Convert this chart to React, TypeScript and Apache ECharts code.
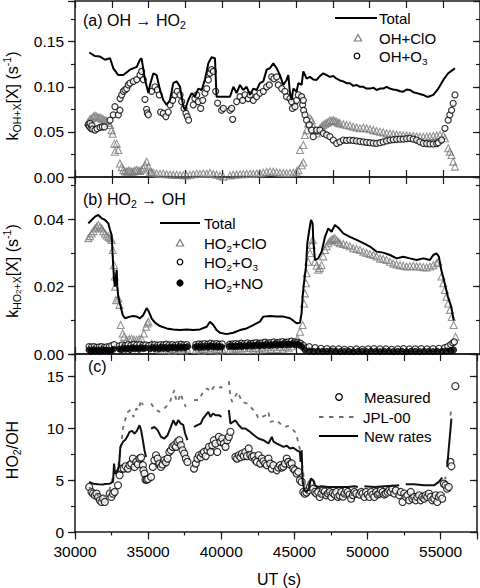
import React, { useEffect, useRef } from 'react';
import * as echarts from 'echarts';

const FONT = '"Liberation Sans", Arial, Helvetica, sans-serif';
const AXIS_COLOR = '#1a1a1a';

// ---------- axes ----------
const UT_MIN = 30000;
const UT_MAX = 57490;
const UT_TICK = 2500;
const UT_LABEL_STEP = 5000;
const A_RANGE = { min: 0, max: 0.1951, major: 0.05, minor: 0.025, dec: 2 };
const B_RANGE = { min: 0, max: 0.05256, major: 0.02, minor: 0.01, dec: 2 };
const C_RANGE = { min: 0, max: 17.12, major: 5, minor: 2.5, dec: 0 };

// ---------- panel (a) : OH -> HO2 ----------
const totalA = [
  [30970, 0.138], [31360, 0.134], [31700, 0.1335], [32040, 0.13], [32380, 0.1316], [32600, 0.1205], [32940, 0.113],
  [33280, 0.113], [33730, 0.119], [34190, 0.122], [34410, 0.13], [34520, 0.1316], [34750, 0.108], [34980, 0.093],
  [35090, 0.102], [35320, 0.115], [35540, 0.113], [35770, 0.0965], [35990, 0.0854], [36220, 0.08], [36450, 0.0854],
  [36670, 0.104], [36900, 0.106], [37130, 0.1], [37350, 0.078], [37470, 0.0743], [37690, 0.0854], [37920, 0.093],
  [38140, 0.089], [38370, 0.098], [38600, 0.0965], [38820, 0.108], [39050, 0.126], [39270, 0.1327], [39500, 0.1316],
  [39610, 0.089], [40070, 0.089], [40520, 0.089], [40750, 0.1], [40970, 0.093], [41200, 0.102], [41420, 0.0965],
  [41650, 0.1], [41880, 0.091], [42100, 0.098], [42330, 0.0965], [42550, 0.104], [42780, 0.106], [43010, 0.119],
  [43230, 0.1205], [43460, 0.126], [43690, 0.1205], [43910, 0.113], [44140, 0.102], [44360, 0.1076], [44480, 0.113],
  [44590, 0.093], [44700, 0.0854], [44820, 0.098], [45040, 0.0946], [45160, 0.104], [45380, 0.102], [45500, 0.117],
  [45720, 0.109], [45950, 0.111], [46170, 0.108], [46400, 0.1076], [46630, 0.112], [46850, 0.115], [47080, 0.113],
  [47300, 0.111], [47530, 0.112], [47760, 0.109], [47980, 0.107], [48210, 0.106], [48430, 0.104], [48660, 0.104],
  [48880, 0.101], [49110, 0.102], [49340, 0.1], [49570, 0.1], [49790, 0.098], [50020, 0.098], [50250, 0.099],
  [50470, 0.0965], [50700, 0.098], [50920, 0.098], [51150, 0.1], [51380, 0.098], [51600, 0.097], [51830, 0.0965],
  [52060, 0.095], [52280, 0.0946], [52510, 0.097], [52730, 0.0965], [52960, 0.094], [53190, 0.093], [53410, 0.092],
  [53640, 0.091], [53870, 0.089], [53980, 0.089], [54320, 0.091], [54660, 0.098], [55000, 0.1076], [55330, 0.115],
  [55670, 0.119], [55790, 0.1205],
];

const clOA = [
  [30900, 0.061], [31020, 0.064], [31130, 0.065], [31250, 0.067], [31360, 0.068], [31470, 0.067], [31580, 0.066],
  [31700, 0.066], [31810, 0.065], [31920, 0.064], [32040, 0.063], [32150, 0.062], [32260, 0.06], [32380, 0.0577],
  [32490, 0.052], [32560, 0.048], [32670, 0.037], [32830, 0.037], [32710, 0.028], [32940, 0.03], [33050, 0.015],
  [33170, 0.011], [33280, 0.0078], [33390, 0.0065], [33510, 0.0059], [33620, 0.007], [33730, 0.0066], [33850, 0.006],
  [33960, 0.0059], [34070, 0.0072], [34190, 0.0078], [34300, 0.0068], [34410, 0.0066], [34520, 0.008], [34640, 0.0096],
  [34750, 0.013], [34860, 0.017], [34980, 0.0115], [35090, 0.0059], [35200, 0.0052], [35320, 0.0048], [35540, 0.004],
  [35770, 0.0033], [35990, 0.0035], [36220, 0.003], [36450, 0.0028], [36670, 0.0026], [36900, 0.0024], [37130, 0.0022],
  [37350, 0.002], [37580, 0.0018], [37800, 0.0025], [38030, 0.003], [38260, 0.0035], [38480, 0.0033], [38710, 0.004],
  [38940, 0.0037], [39160, 0.0045], [39390, 0.0033], [39610, 0.0025], [39840, 0.0015], [40070, 0.0004], [40520, 0.0018],
  [40740, 0.0026], [40970, 0.0028], [41200, 0.003], [41420, 0.0032], [41650, 0.0033], [41880, 0.0035], [42100, 0.0037],
  [42330, 0.004], [42550, 0.0041], [42780, 0.0048], [43010, 0.0055], [43230, 0.0062], [43460, 0.0059], [43690, 0.0052],
  [43910, 0.0048], [44140, 0.0045], [44360, 0.0041], [44590, 0.0045], [44820, 0.0048], [45040, 0.006], [45160, 0.0078],
  [45270, 0.03], [45380, 0.013], [45500, 0.016], [45500, 0.0355], [45610, 0.0466], [45720, 0.052], [45830, 0.0595],
  [45950, 0.065], [46060, 0.063], [46170, 0.0558], [46290, 0.052], [46400, 0.0484], [46520, 0.051], [46630, 0.054],
  [46740, 0.056], [46850, 0.0577], [46970, 0.059], [47080, 0.06], [47190, 0.061], [47300, 0.0625], [47420, 0.062],
  [47530, 0.063], [47640, 0.062], [47760, 0.0614], [47870, 0.06], [47980, 0.0595], [48210, 0.0585], [48430, 0.0577],
  [48660, 0.057], [48880, 0.0558], [49110, 0.055], [49340, 0.054], [49570, 0.0545], [49790, 0.054], [50020, 0.053],
  [50250, 0.052], [50470, 0.051], [50700, 0.0503], [50920, 0.0495], [51150, 0.0484], [51380, 0.048], [51600, 0.0477],
  [51830, 0.047], [52060, 0.0466], [52280, 0.0462], [52510, 0.046], [52730, 0.0458], [52960, 0.0455], [53190, 0.045],
  [53410, 0.0447], [53640, 0.0445], [53870, 0.0447], [54090, 0.045], [54320, 0.0455], [54550, 0.046], [54770, 0.0466],
  [55000, 0.046], [55110, 0.0429], [55330, 0.0318], [55440, 0.0281], [55560, 0.0244], [55670, 0.017], [55790, 0.0115],
];

const o3A = [
  [30900, 0.058], [30970, 0.056], [31020, 0.0595], [31080, 0.054], [31150, 0.057], [31200, 0.053], [31360, 0.052],
  [31500, 0.0535], [31700, 0.055], [31850, 0.0555], [32000, 0.0555], [32375, 0.063], [32600, 0.0688], [32710, 0.078],
  [32940, 0.0688], [33050, 0.074], [33060, 0.087], [33170, 0.091], [33280, 0.095], [33390, 0.0965], [33510, 0.098],
  [33620, 0.102], [33730, 0.104], [33960, 0.106], [34190, 0.108], [34410, 0.113], [34520, 0.117], [34640, 0.108],
  [34750, 0.086], [34860, 0.075], [34910, 0.071], [34980, 0.069], [35200, 0.095], [35430, 0.1], [35590, 0.0965],
  [35720, 0.091], [35810, 0.072], [35990, 0.0706], [36170, 0.067], [36330, 0.072], [36450, 0.08], [36630, 0.085],
  [36790, 0.091], [36940, 0.095], [37130, 0.091], [37240, 0.0836], [37400, 0.076], [37530, 0.0706], [37620, 0.067],
  [37710, 0.063], [38030, 0.08], [38140, 0.087], [38260, 0.091], [38370, 0.0836], [38530, 0.076], [38670, 0.085],
  [38820, 0.093], [38940, 0.098], [39050, 0.1076], [39160, 0.115], [39270, 0.119], [39390, 0.117], [39550, 0.095],
  [39680, 0.082], [39950, 0.074], [40070, 0.076], [40520, 0.074], [40630, 0.076], [40700, 0.064], [40970, 0.0836],
  [41200, 0.089], [41380, 0.085], [41540, 0.091], [41760, 0.087], [41880, 0.091], [42100, 0.085], [42330, 0.089],
  [42550, 0.093], [42780, 0.095], [43010, 0.1], [43190, 0.102], [43350, 0.111], [43500, 0.109], [43690, 0.111],
  [43800, 0.102], [44030, 0.098], [44250, 0.095], [44360, 0.089], [44590, 0.087], [44700, 0.0836], [44760, 0.076],
  [44930, 0.078], [45040, 0.085], [45160, 0.091], [45380, 0.089], [45450, 0.08], [45500, 0.085], [45520, 0.074],
  [45610, 0.0688], [45720, 0.063], [45900, 0.0577], [46060, 0.052], [46170, 0.0447], [46400, 0.052], [46630, 0.052],
  [46850, 0.0484], [47080, 0.0466], [47300, 0.0447], [47530, 0.041], [47760, 0.0373], [47980, 0.039], [48210, 0.041],
  [48430, 0.0405], [48660, 0.041], [48880, 0.0405], [49110, 0.04], [49340, 0.0395], [49570, 0.039], [49790, 0.0385],
  [50020, 0.038], [50250, 0.0375], [50470, 0.0373], [50700, 0.038], [50920, 0.039], [51150, 0.04], [51380, 0.041],
  [51600, 0.0415], [51830, 0.0418], [52060, 0.042], [52280, 0.042], [52510, 0.0425], [52730, 0.0429], [52960, 0.042],
  [53190, 0.041], [53410, 0.039], [53640, 0.0373], [53870, 0.037], [54090, 0.0366], [54320, 0.0366], [54550, 0.037],
  [54660, 0.038], [54880, 0.041], [55110, 0.054], [55330, 0.063], [55440, 0.0688], [55560, 0.074], [55670, 0.0817],
  [55790, 0.091],
];

// ---------- panel (b) : HO2 -> OH ----------
const totalB = [
  [30905, 0.0388], [31130, 0.0398], [31360, 0.0408], [31580, 0.0413], [31810, 0.0403], [32040, 0.0398], [32260, 0.0388],
  [32380, 0.0368], [32490, 0.0353], [32560, 0.0289], [32600, 0.0259], [32650, 0.022], [32710, 0.02], [32830, 0.025],
  [32870, 0.02], [32940, 0.017], [33050, 0.015], [33240, 0.0116], [33390, 0.0106], [33730, 0.0111], [33960, 0.0113],
  [34190, 0.0111], [34410, 0.0106], [34640, 0.0116], [34860, 0.0136], [34980, 0.0129], [35200, 0.0106], [35430, 0.0093],
  [35770, 0.0083], [36220, 0.0076], [36670, 0.0073], [37130, 0.0071], [37580, 0.0073], [38030, 0.0071], [38480, 0.0073],
  [38940, 0.0081], [39160, 0.0096], [39390, 0.0086], [39610, 0.0071], [39840, 0.0063], [40290, 0.0059], [40740, 0.0063],
  [41200, 0.0071], [41650, 0.0076], [42100, 0.0086], [42550, 0.0096], [42780, 0.0111], [43230, 0.0113], [43690, 0.0111],
  [44140, 0.0111], [44590, 0.0106], [44820, 0.0099], [45040, 0.0091], [45270, 0.0093], [45380, 0.0121], [45450, 0.017],
  [45540, 0.021], [45680, 0.026], [45770, 0.0329], [45900, 0.0368], [46020, 0.0398], [46130, 0.0388], [46170, 0.034],
  [46290, 0.0279], [46510, 0.0284], [46740, 0.0304], [46970, 0.0348], [47190, 0.0373], [47420, 0.0363], [47640, 0.0383],
  [47870, 0.0375], [48210, 0.0358], [48660, 0.0348], [49110, 0.0339], [49570, 0.0329], [50020, 0.0319], [50470, 0.0304],
  [50920, 0.0301], [51380, 0.0294], [51830, 0.0284], [52280, 0.0289], [52730, 0.0284], [53190, 0.0279], [53640, 0.0284],
  [54090, 0.0279], [54320, 0.0294], [54540, 0.0299], [54700, 0.0289], [54860, 0.025], [55090, 0.021], [55310, 0.017],
  [55540, 0.014], [55700, 0.01],
];

const clOB = [
  [30905, 0.0344], [31020, 0.035], [31130, 0.0358], [31250, 0.0365], [31360, 0.0373], [31470, 0.0378], [31580, 0.0383],
  [31700, 0.0378], [31810, 0.0373], [31920, 0.0365], [32040, 0.0358], [32150, 0.0352], [32260, 0.0348], [32380, 0.0344],
  [32490, 0.0339], [32560, 0.0309], [32650, 0.0264], [32710, 0.023], [32720, 0.02], [32780, 0.016], [32940, 0.0165],
  [33010, 0.0146], [33100, 0.0086], [33240, 0.0061], [33330, 0.0051], [33510, 0.0042], [33680, 0.0044], [33840, 0.0045],
  [34010, 0.0043], [34180, 0.0042], [34350, 0.0044], [34520, 0.0045], [34680, 0.0061], [34820, 0.0081], [34910, 0.0091],
  [34980, 0.0096], [35200, 0.003], [35400, 0.0022], [35600, 0.0016], [35800, 0.0012], [36000, 0.0018], [36200, 0.0011],
  [36400, 0.0016], [36600, 0.001], [36800, 0.0015], [37000, 0.0012], [37200, 0.0017], [37400, 0.0011], [37600, 0.0016],
  [38200, 0.0012], [38400, 0.0016], [38600, 0.001], [38800, 0.0015], [39000, 0.0012], [39200, 0.0017], [39400, 0.0011],
  [39600, 0.0015], [39800, 0.001], [40000, 0.0014], [40500, 0.0012], [40700, 0.0016], [40900, 0.0011], [41100, 0.0016],
  [41300, 0.0012], [41500, 0.0017], [41700, 0.0012], [41900, 0.0018], [42100, 0.0013], [42300, 0.0018], [42500, 0.0013],
  [42700, 0.0019], [42900, 0.0014], [43100, 0.002], [43300, 0.0015], [43500, 0.002], [43700, 0.0015], [43900, 0.0021],
  [44100, 0.0016], [44300, 0.0022], [44500, 0.0017], [44700, 0.0023], [44930, 0.0032], [45100, 0.0045], [45270, 0.0066],
  [45450, 0.0086], [45540, 0.015], [45610, 0.018], [45680, 0.021], [45720, 0.024], [45830, 0.0274], [45950, 0.03],
  [46060, 0.0324], [46130, 0.0339], [46290, 0.0274], [46400, 0.0262], [46510, 0.025], [46620, 0.0255], [46740, 0.0264],
  [46850, 0.029], [46970, 0.0309], [47080, 0.032], [47190, 0.0329], [47300, 0.0335], [47420, 0.0339], [47530, 0.0342],
  [47640, 0.0344], [47760, 0.0338], [47870, 0.0333], [47980, 0.0329], [48210, 0.0327], [48430, 0.0324], [48660, 0.032],
  [48880, 0.0314], [49110, 0.0312], [49340, 0.0309], [49570, 0.0304], [49790, 0.03], [50020, 0.0297], [50250, 0.0294],
  [50470, 0.029], [50700, 0.0284], [50920, 0.0282], [51150, 0.0279], [51380, 0.0274], [51600, 0.0269], [51830, 0.0266],
  [52060, 0.0264], [52280, 0.0262], [52510, 0.026], [52730, 0.0261], [52960, 0.0262], [53190, 0.026], [53410, 0.026],
  [53640, 0.0258], [53870, 0.0257], [54090, 0.026], [54320, 0.0264], [54550, 0.027], [54660, 0.0274], [54880, 0.023],
  [55000, 0.021], [55110, 0.019], [55220, 0.017], [55330, 0.015], [55450, 0.0131], [55580, 0.011], [55700, 0.0086],
  [55830, 0.0051],
];

const o3B = [
  [30950, 0.0022], [31130, 0.0021], [31300, 0.0022], [31470, 0.002], [31640, 0.0021], [31810, 0.0022], [31980, 0.002],
  [32150, 0.0021], [32320, 0.0022], [32490, 0.0025], [32660, 0.0028], [33000, 0.0024], [33200, 0.0027], [33400, 0.0025],
  [33600, 0.0028], [33800, 0.0026], [34000, 0.0029], [34200, 0.0027], [34400, 0.0028], [34600, 0.0026], [34800, 0.0027],
  [35000, 0.0025], [35200, 0.0027], [35400, 0.0028], [35600, 0.0026], [35800, 0.0028], [36000, 0.0027], [36200, 0.0029],
  [36400, 0.0027], [36600, 0.0028], [36800, 0.0026], [37000, 0.0028], [37200, 0.0029], [37400, 0.0027], [37600, 0.0028],
  [38200, 0.0028], [38400, 0.003], [38600, 0.0029], [38800, 0.0031], [39000, 0.0029], [39200, 0.0032], [39400, 0.003],
  [39600, 0.0031], [39800, 0.0029], [40000, 0.003], [40500, 0.0029], [40700, 0.003], [40900, 0.0031], [41100, 0.003],
  [41300, 0.0032], [41500, 0.0031], [41700, 0.0033], [41900, 0.0031], [42100, 0.0032], [42300, 0.0034], [42500, 0.0032],
  [42700, 0.0033], [42900, 0.0035], [43100, 0.0033], [43300, 0.0034], [43500, 0.0036], [43700, 0.0034], [43900, 0.0035],
  [44100, 0.0037], [44300, 0.0035], [44500, 0.0036], [44700, 0.0038], [44900, 0.0036], [45100, 0.0035], [45300, 0.0032],
  [45500, 0.0026], [45700, 0.0018], [45900, 0.0022], [46300, 0.0019], [46700, 0.0017], [47100, 0.0016], [47500, 0.0015],
  [47900, 0.0015], [48300, 0.0014], [48700, 0.0014], [49100, 0.0015], [49500, 0.0014], [49900, 0.0015], [50300, 0.0016],
  [50700, 0.0015], [51100, 0.0015], [51500, 0.0014], [51900, 0.0015], [52300, 0.0016], [52700, 0.0015], [53100, 0.0015],
  [53500, 0.0016], [53900, 0.0015], [54300, 0.0016], [54700, 0.0017], [55100, 0.0019], [55300, 0.0022], [55500, 0.0028],
  [55650, 0.0033], [55750, 0.0036],
];

const noB = [
  [30950, 0.0012], [31100, 0.0008], [31250, 0.0013], [31400, 0.0009], [31550, 0.0012], [31700, 0.0008], [31850, 0.0013],
  [32000, 0.0009], [32150, 0.0012], [32300, 0.0008], [32450, 0.0011], [32600, 0.0014], [33000, 0.0015], [33150, 0.0012],
  [33300, 0.0018], [33450, 0.0014], [33600, 0.0017], [33750, 0.0013], [33900, 0.0019], [34050, 0.0015], [34200, 0.0018],
  [34350, 0.0014], [34500, 0.0019], [34650, 0.0016], [34800, 0.0018], [35100, 0.0015], [35250, 0.002], [35400, 0.0016],
  [35550, 0.0019], [35700, 0.0015], [35850, 0.0021], [36000, 0.0017], [36150, 0.002], [36300, 0.0016], [36450, 0.0021],
  [36600, 0.0018], [36750, 0.002], [36900, 0.0017], [37050, 0.0022], [37200, 0.0018], [37350, 0.0021], [37500, 0.0019],
  [37650, 0.0022], [38150, 0.002], [38300, 0.0023], [38450, 0.0019], [38600, 0.0024], [38750, 0.002], [38900, 0.0023],
  [39050, 0.002], [39200, 0.0025], [39350, 0.0021], [39500, 0.0024], [39650, 0.002], [39800, 0.0023], [39950, 0.0021],
  [40450, 0.0022], [40600, 0.0025], [40750, 0.0021], [40900, 0.0024], [41050, 0.0022], [41200, 0.0026], [41350, 0.0022],
  [41500, 0.0025], [41650, 0.0023], [41800, 0.0027], [41950, 0.0023], [42100, 0.0026], [42250, 0.0024], [42400, 0.0028],
  [42550, 0.0024], [42700, 0.0027], [42850, 0.0025], [43000, 0.0029], [43150, 0.0025], [43300, 0.0028], [43450, 0.0026],
  [43600, 0.003], [43750, 0.0026], [43900, 0.0029], [44050, 0.0027], [44200, 0.0031], [44350, 0.0027], [44500, 0.003],
  [44650, 0.0028], [44800, 0.0031], [44950, 0.0027], [45100, 0.003], [45250, 0.0026], [45400, 0.0022], [45600, 0.0012],
  [45900, 0.0009], [46200, 0.0008], [46500, 0.0009], [46800, 0.0008], [47100, 0.0008], [47400, 0.0009], [47700, 0.0008],
  [48000, 0.0007], [48300, 0.0008], [48600, 0.0008], [48900, 0.0007], [49200, 0.0008], [49500, 0.0008], [49800, 0.0007],
  [50100, 0.0008], [50400, 0.0008], [50700, 0.0007], [51000, 0.0008], [51300, 0.0008], [51600, 0.0007], [51900, 0.0008],
  [52200, 0.0008], [52500, 0.0007], [52800, 0.0008], [53100, 0.0008], [53400, 0.0007], [53700, 0.0008], [54000, 0.0008],
  [54300, 0.0007], [54600, 0.0008], [54900, 0.0008], [55200, 0.0009], [55500, 0.001], [55700, 0.0012],
];

// ---------- panel (c) : HO2/OH ----------
const measuredC = [
  [30970, 4.33], [31130, 3.85], [31240, 3.69], [31360, 3.53], [31470, 3.69], [31580, 3.37], [31700, 3.05], [31810, 2.89],
  [31920, 3.21], [32040, 2.89], [32380, 3.69], [32490, 3.37], [32600, 3.69], [32710, 3.85], [32940, 4.49], [33050, 5.46],
  [33170, 6.1], [33330, 6.1], [33460, 6.32], [33620, 6.1], [33730, 6.42], [33850, 6.58], [33960, 7.06], [34070, 6.26],
  [34190, 6.74], [34300, 6.52], [34410, 7.06], [34520, 7.16], [34640, 6.42], [34680, 5.94], [34750, 5.62], [34820, 5.04],
  [34910, 5.04], [35000, 5.1], [35200, 5.3], [35320, 6.26], [35430, 6.9], [35540, 7.38], [35650, 7.06], [35770, 6.58],
  [35880, 6.26], [35990, 6.5], [36110, 6.9], [36220, 6.7], [36330, 7.06], [36450, 7.7], [36560, 7.86], [36670, 8.19],
  [36790, 8.35], [36900, 8.19], [37010, 8.67], [37130, 8.83], [37240, 8.35], [37350, 7.86], [37470, 7.54], [37580, 7.06],
  [37690, 6.74], [38140, 6.1], [38260, 6.58], [38370, 7.06], [38480, 7.38], [38600, 7.2], [38710, 7.54], [38820, 7.7],
  [38940, 7.3], [39050, 7.86], [39160, 8.19], [39270, 7.7], [39390, 8.35], [39500, 8.83], [39610, 8.51], [39730, 7.7],
  [39840, 9.15], [39950, 8.67], [40070, 8.99], [40180, 8.51], [40290, 8.19], [40410, 8.83], [40520, 9.15], [40630, 9.63],
  [40970, 7.22], [41080, 7.06], [41200, 7.38], [41310, 7.2], [41420, 7.54], [41540, 7.3], [41650, 7.7], [41760, 7.3],
  [41880, 8.03], [41990, 7.4], [42100, 7.22], [42220, 7.3], [42330, 6.9], [42440, 6.74], [42550, 7.38], [42670, 6.58],
  [42780, 7.06], [42890, 6.8], [43010, 6.58], [43120, 6.42], [43230, 7.06], [43350, 6.58], [43460, 6.1], [43570, 6.42],
  [43800, 5.94], [43910, 6.2], [44020, 6.42], [44140, 6.2], [44250, 6.3], [44360, 6.58], [44480, 7.06], [44590, 6.74],
  [44700, 6.5], [44820, 6.6], [44930, 6.1], [45040, 5.94], [45160, 5.62], [45270, 5.8], [45380, 4.98], [45500, 4.82],
  [45610, 3.85], [45720, 3.69], [45830, 3.8], [45950, 4.01], [46060, 4.33], [46170, 4.65], [46290, 4.17], [46400, 3.85],
  [46510, 3.7], [46630, 3.85], [46740, 3.37], [46850, 3.69], [46970, 4.01], [47080, 3.9], [47190, 3.53], [47300, 3.7],
  [47420, 3.85], [47530, 3.37], [47640, 3.75], [47760, 3.6], [47870, 3.85], [47980, 3.37], [48100, 3.5], [48210, 3.85],
  [48320, 3.4], [48430, 3.7], [48550, 4.01], [48660, 3.85], [48770, 3.6], [48880, 3.21], [49000, 3.55], [49110, 3.85],
  [49220, 3.7], [49450, 3.6], [49570, 3.85], [49680, 3.7], [49790, 3.37], [49900, 3.85], [50020, 3.6], [50130, 3.37],
  [50250, 3.85], [50360, 3.6], [50470, 3.37], [50590, 3.85], [50700, 3.6], [50810, 3.7], [50920, 4.01], [51040, 3.85],
  [51150, 3.6], [51260, 3.7], [51380, 3.85], [51490, 4.01], [51600, 3.85], [51710, 4.17], [51830, 3.7], [51940, 4.0],
  [52170, 3.53], [52280, 3.85], [52400, 2.89], [52510, 3.7], [52620, 3.37], [52730, 3.53], [52850, 3.05], [52960, 3.85],
  [53070, 3.21], [53190, 3.37], [53300, 3.05], [53410, 3.37], [53530, 3.53], [53640, 3.05], [53750, 3.37], [53870, 3.21],
  [53980, 3.53], [54090, 3.37], [54200, 3.69], [54320, 3.37], [54430, 3.05], [54550, 3.21], [54660, 3.53], [54770, 2.89],
  [54880, 3.37], [54990, 3.53], [55110, 3.21], [55220, 4.65], [55330, 4.5], [55450, 4.17], [55560, 4.33], [55670, 6.74],
  [55740, 6.32], [56010, 14.03],
];

const jplC = [
  [[30970, 4.33], [31240, 3.85], [31580, 3.53], [31920, 3.37], [32260, 3.6], [32600, 5.3], [32940, 6.2], [33170, 8.5],
   [33280, 9.95], [33390, 10.59], [33620, 11.56], [33780, 11.72], [34000, 11.07], [34190, 11.88], [34340, 11.72],
   [34520, 12.68], [34640, 12.2]],
  [[35200, 12.36], [35430, 11.88], [35770, 11.56], [36110, 11.88], [36450, 12.36], [36790, 13.64], [36900, 12.84],
   [37010, 12.5], [37240, 13.32], [37400, 12.52], [37580, 12.04]],
  [[38140, 12.68], [38480, 12.7], [38820, 13.64], [39050, 13.8], [39270, 13.48], [39500, 13.96], [39730, 13.8],
   [40000, 13.96], [40130, 13.6]],
  [[40520, 14.51], [40630, 13.0], [40750, 12.52], [41130, 13.48], [41420, 12.52], [41760, 12.36], [41990, 12.04],
   [42330, 11.56], [42550, 10.91], [43010, 11.2], [43230, 11.56], [43350, 10.59], [43800, 10.75], [44140, 10.27],
   [44360, 10.11], [44590, 10.2], [44820, 9.95], [45040, 9.63], [45160, 9.15], [45270, 8.67], [45380, 7.9], [45500, 6.9],
   [45610, 5.62], [45720, 4.33], [45830, 3.85], [45950, 3.53], [46170, 4.0], [46400, 3.7], [46850, 3.5], [47300, 3.8],
   [47760, 3.5], [48210, 3.6], [48660, 3.4], [49110, 3.7], [49570, 3.5], [50020, 3.6], [50470, 3.4], [50920, 3.6],
   [51380, 3.5], [51830, 3.7], [52280, 3.3], [52730, 3.4], [53190, 3.2], [53640, 3.3], [54090, 3.1], [54550, 3.2],
   [55000, 3.0], [55220, 3.4], [55330, 5.3], [55450, 4.65]],
  [[55680, 11.2], [55720, 12.0]],
];

const newRatesC = [
  [[30970, 4.82], [31240, 4.65], [31580, 4.59], [31920, 4.56], [32040, 4.62], [32380, 4.65], [32600, 4.82], [32670, 6.58],
   [32740, 5.6], [32830, 5.7], [33010, 6.26], [33100, 8.19], [33280, 8.67], [33460, 8.89], [33620, 9.31], [33730, 9.63],
   [33910, 9.73], [34070, 9.47], [34230, 9.73], [34410, 10.27], [34520, 9.79], [34640, 8.83], [34750, 7.86], [34860, 7.22]],
  [[35200, 9.95], [35430, 10.1], [35650, 9.8], [35880, 9.15], [36110, 8.99], [36330, 9.31], [36560, 10.11], [36720, 10.75],
   [36900, 10.27], [37060, 10.75], [37240, 10.43], [37400, 10.3], [37530, 9.47], [37690, 8.83]],
  [[38140, 10.11], [38370, 10.27], [38600, 10.43], [38750, 10.91], [38940, 11.24], [39120, 11.56], [39270, 11.07],
   [39430, 11.4], [39610, 11.24], [39840, 11.24], [40020, 11.07]],
  [[40520, 11.72], [40630, 10.43], [40970, 10.75], [41200, 10.27], [41420, 9.95], [41650, 9.95], [41880, 9.73],
   [42100, 9.47], [42330, 9.21], [42550, 8.99], [42890, 8.83], [43230, 8.51], [43460, 9.15], [43570, 8.7], [43800, 8.51],
   [44020, 8.35], [44250, 8.19], [44480, 8.3], [44700, 8.03], [44930, 8.1], [45160, 7.86], [45380, 7.7], [45430, 6.74],
   [45500, 7.86], [45560, 4.98], [45680, 4.01], [45830, 3.85], [45990, 4.17], [46130, 5.14], [46290, 4.98], [46400, 4.49],
   [46630, 4.33], [46850, 4.4], [47300, 4.33], [47760, 4.33], [48210, 4.33], [48660, 4.33], [49110, 4.4], [49340, 4.33]],
  [[49790, 4.4], [50470, 4.33], [51150, 4.4], [51830, 4.46], [52170, 4.49]],
  [[52620, 4.59], [53190, 4.59], [53870, 4.49], [54550, 4.49], [54880, 4.82], [55110, 5.23]],
  [[55450, 6.26], [55630, 9.15], [55740, 10.91]],
];

// ---------- helpers ----------
const withBreaks = (segs: number[][][]) =>
  segs.flatMap((s, i) => (i ? [[s[0][0] - 1, '-'], ...s] : s));

const isMult = (v: number, step: number) => Math.abs(v / step - Math.round(v / step)) < 1e-6;

const tickLine = { color: AXIS_COLOR, width: 1.2 };
const axisLine = { show: true, onZero: false, lineStyle: { color: AXIS_COLOR, width: 1.5 } };

function xAxis(grid: number, position: string, inside: boolean) {
  return {
    type: 'value', gridIndex: grid, position, min: UT_MIN, max: UT_MAX, interval: UT_TICK,
    axisLine, splitLine: { show: false },
    axisTick: { show: true, inside, length: 7, lineStyle: tickLine },
    axisLabel: { show: false },
  };
}

// bottom axis of the last panel: labelled major ticks + short minor ticks, pointing outwards
function xAxesLabelled(grid: number) {
  const base = { type: 'value', gridIndex: grid, position: 'bottom', min: UT_MIN, max: UT_MAX, splitLine: { show: false } };
  return [
    { ...base, interval: UT_LABEL_STEP, axisLine,
      axisTick: { show: true, inside: false, length: 7.5, lineStyle: tickLine },
      axisLabel: {
        show: true, margin: 12, lineHeight: 14, color: '#000', fontSize: 15.5, fontFamily: FONT,
        formatter: (v: number) => (isMult(v, UT_LABEL_STEP) ? String(v) : ''),
      } },
    { ...base, interval: UT_TICK, axisLine: { show: false }, axisLabel: { show: false },
      axisTick: { show: true, inside: false, length: 3.5, lineStyle: tickLine } },
  ];
}

function yAxes(grid: number, r: { min: number; max: number; major: number; minor: number; dec: number }) {
  const base = { type: 'value', gridIndex: grid, min: r.min, max: r.max, splitLine: { show: false } };
  const label = {
    show: true, margin: 11, lineHeight: 14, color: '#000', fontSize: 15.5, fontFamily: FONT,
    formatter: (v: number) => (isMult(v, r.major) ? v.toFixed(r.dec) : ''),
  };
  return [
    { ...base, position: 'left', interval: r.major, axisLine, axisLabel: label,
      axisTick: { show: true, inside: false, length: 7, lineStyle: tickLine } },
    { ...base, position: 'right', interval: r.major, axisLine, axisLabel: { show: false },
      axisTick: { show: true, inside: true, length: 7, lineStyle: tickLine } },
    { ...base, position: 'left', interval: r.minor, axisLine: { show: false }, axisLabel: { show: false },
      axisTick: { show: true, inside: false, length: 4, lineStyle: tickLine } },
    { ...base, position: 'right', interval: r.minor, axisLine: { show: false }, axisLabel: { show: false },
      axisTick: { show: true, inside: true, length: 4, lineStyle: tickLine } },
  ];
}

function richFor(fs: number) {
  const t = (size: number, lh: number, va: string) => ({
    fontSize: size, fontFamily: FONT, fill: '#000', color: '#000', lineHeight: lh, verticalAlign: va,
  });
  return {
    n: t(fs, fs + 5, 'middle'),
    s: t(fs * 0.66, fs * 0.8, 'bottom'),
    ss: t(fs * 0.5, fs * 0.5, 'bottom'),
    p: t(fs * 0.66, fs * 0.8, 'top'),
  };
}
const RICH_L = richFor(15);
const RICH_T = richFor(16);

function txt(x: number, y: number, text: string, rich: any, rot = 0, align = 'left') {
  return {
    type: 'text', x, y, rotation: rot, silent: true, z: 100,
    style: {
      x: 0, y: 0, text, rich, fill: '#000', fontSize: 15, fontFamily: FONT,
      align, textAlign: align, verticalAlign: 'middle', textVerticalAlign: 'middle',
    },
  };
}
function legLine(x1: number, x2: number, y: number, dash?: number[], color = '#000', width = 2) {
  return {
    type: 'line', silent: true, z: 100, shape: { x1, y1: y, x2, y2: y },
    style: { stroke: color, lineWidth: width, lineDash: dash },
  };
}
function legTri(cx: number, cy: number) {
  return {
    type: 'polygon', silent: true, z: 100,
    shape: { points: [[cx, cy - 3.5], [cx - 3.6, cy + 3], [cx + 3.6, cy + 3]] },
    style: { fill: 'none', stroke: '#7a7a7a', lineWidth: 1.2 },
  };
}
function legCirc(cx: number, cy: number, r: number, filled = false) {
  return {
    type: 'circle', silent: true, z: 100, shape: { cx, cy, r },
    style: { fill: filled ? '#000' : '#fff', stroke: '#000', lineWidth: 1.2 },
  };
}

const triStyle = { color: 'rgba(0,0,0,0)', borderColor: '#7a7a7a', borderWidth: 1.1 };
const circStyle = { color: '#fff', borderColor: '#000', borderWidth: 1.2 };

const option = {
  animation: false,
  backgroundColor: '#fff',
  grid: [
    { left: 75, top: 1, width: 405, height: 176 },
    { left: 75, top: 177, width: 405, height: 177 },
    { left: 75, top: 354, width: 405, height: 178 },
  ],
  xAxis: [
    xAxis(0, 'bottom', true), xAxis(0, 'top', true),
    xAxis(1, 'bottom', true), xAxis(1, 'top', true),
    ...xAxesLabelled(2), xAxis(2, 'top', true),
  ],
  yAxis: [...yAxes(0, A_RANGE), ...yAxes(1, B_RANGE), ...yAxes(2, C_RANGE)],
  series: [
    { type: 'scatter', name: 'OH+ClO', xAxisIndex: 0, yAxisIndex: 0, data: clOA, symbol: 'triangle', symbolSize: 7, itemStyle: triStyle, silent: true },
    { type: 'scatter', name: 'OH+O3', xAxisIndex: 0, yAxisIndex: 0, data: o3A, symbol: 'circle', symbolSize: 6, itemStyle: circStyle, silent: true },
    { type: 'line', name: 'Total (a)', xAxisIndex: 0, yAxisIndex: 0, data: totalA, showSymbol: false, symbol: 'none', lineStyle: { color: '#000', width: 2 }, silent: true },

    { type: 'scatter', name: 'HO2+ClO', xAxisIndex: 2, yAxisIndex: 4, data: clOB, symbol: 'triangle', symbolSize: 7, itemStyle: triStyle, silent: true },
    { type: 'scatter', name: 'HO2+O3', xAxisIndex: 2, yAxisIndex: 4, data: o3B, symbol: 'circle', symbolSize: 6, itemStyle: circStyle, silent: true },
    { type: 'scatter', name: 'HO2+NO', xAxisIndex: 2, yAxisIndex: 4, data: noB, symbol: 'circle', symbolSize: 6, itemStyle: { color: '#000', borderColor: '#000', borderWidth: 1 }, silent: true },
    { type: 'line', name: 'Total (b)', xAxisIndex: 2, yAxisIndex: 4, data: totalB, showSymbol: false, symbol: 'none', lineStyle: { color: '#000', width: 2 }, silent: true },

    { type: 'line', name: 'JPL-00', xAxisIndex: 4, yAxisIndex: 8, data: withBreaks(jplC), showSymbol: false, symbol: 'none', lineStyle: { color: '#6e6e6e', width: 1.8, type: [4, 5] }, silent: true },
    { type: 'line', name: 'New rates', xAxisIndex: 4, yAxisIndex: 8, data: withBreaks(newRatesC), showSymbol: false, symbol: 'none', lineStyle: { color: '#111', width: 2 }, silent: true },
    { type: 'scatter', name: 'Measured', xAxisIndex: 4, yAxisIndex: 8, data: measuredC, symbol: 'circle', symbolSize: 7, itemStyle: circStyle, silent: true },
  ],
  graphic: [
    // panel labels
    txt(83, 20, '{n|(a) OH → HO}{s|2}', RICH_T),
    txt(83, 199, '{n|(b) HO}{s|2}{n| → OH}', RICH_T),
    txt(88, 366, '{n|(c)}', RICH_T),
    // axis names
    txt(12, 96, '{n|k}{s|OH+X}{n|[X] (s}{p|-1}{n|)}', RICH_T, Math.PI / 2, 'center'),
    txt(12, 271, '{n|k}{s|HO}{ss|2}{s|+X}{n|[X] (s}{p|-1}{n|)}', RICH_T, Math.PI / 2, 'center'),
    txt(12, 450, '{n|HO}{s|2}{n|/OH}', RICH_T, Math.PI / 2, 'center'),
    txt(279, 579, '{n|UT (s)}', RICH_T, 0, 'center'),
    // legend a
    legLine(335, 377, 18),
    txt(379, 18, '{n|Total}', RICH_L),
    legTri(358, 38),
    txt(379, 38, '{n|OH+ClO}', RICH_L),
    legCirc(357, 56, 2.8),
    txt(379, 56, '{n|OH+O}{s|3}', RICH_L),
    // legend b
    legLine(160, 200, 223),
    txt(204, 223, '{n|Total}', RICH_L),
    legTri(180, 243),
    txt(204, 243, '{n|HO}{s|2}{n|+ClO}', RICH_L),
    legCirc(180, 262, 2.8),
    txt(204, 262, '{n|HO}{s|2}{n|+O}{s|3}', RICH_L),
    legCirc(180, 283, 3, true),
    txt(204, 283, '{n|HO}{s|2}{n|+NO}', RICH_L),
    // legend c
    legCirc(339, 397, 3.3),
    txt(364, 397, '{n|Measured}', RICH_L),
    legLine(319, 357, 417, [4.5, 5.5], '#6e6e6e', 1.8),
    txt(363, 417, '{n|JPL-00}', RICH_L),
    legLine(319, 358, 436),
    txt(364, 436, '{n|New rates}', RICH_L),
  ],
};

export default function App() {
  const ref = useRef<HTMLDivElement>(null);
  useEffect(() => {
    const chart = echarts.init(ref.current as HTMLDivElement, null, { renderer: 'svg' });
    chart.setOption(option as any);
    return () => chart.dispose();
  }, []);
  return <div ref={ref} style={{ position: 'absolute', left: 0, top: 0, width: 480, height: 588 }} />;
}
